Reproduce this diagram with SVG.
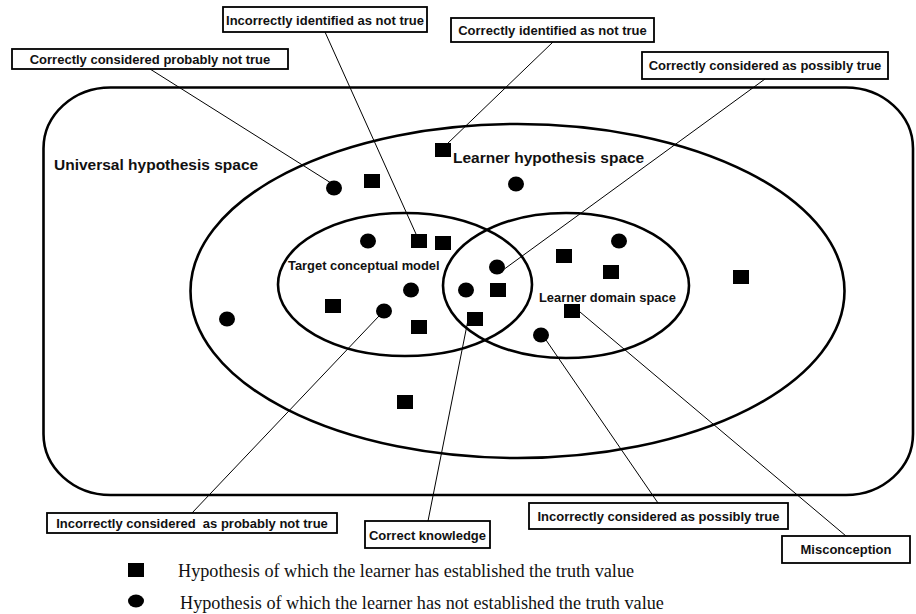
<svg xmlns="http://www.w3.org/2000/svg" width="916" height="614" viewBox="0 0 916 614">
  <style>
    .region { fill: none; stroke: #000; stroke-width: 2.6; }
    .box { fill: #fff; stroke: #000; stroke-width: 1.8; }
    .lbl { font-family: "Liberation Sans", Arial, sans-serif; font-weight: bold; font-size: 13px; text-anchor: middle; fill: #111; white-space: pre; }
    .title { font-family: "Liberation Sans", Arial, sans-serif; font-weight: bold; fill: #111; }
    .legend { font-family: "Liberation Serif", "Times New Roman", serif; font-size: 18.2px; fill: #111; }
    .link { stroke: #000; stroke-width: 1; fill: none; }
    .sq { fill: #000; }
    .dot { fill: #000; }
  </style>
  <rect width="916" height="614" fill="#fff"/>

  <!-- nested hypothesis spaces -->
  <g id="universal-space">
    <rect class="region" x="43.5" y="87.5" width="869.5" height="407.5" rx="67" ry="61"/>
    <text class="title" x="54" y="170" font-size="15.5">Universal hypothesis space</text>
  </g>
  <g id="learner-hypothesis-space">
    <ellipse class="region" cx="517.5" cy="291" rx="327" ry="167"/>
    <text class="title" x="453" y="163" font-size="15.5">Learner hypothesis space</text>
  </g>
  <g id="target-model">
    <ellipse class="region" cx="405" cy="284.5" rx="127" ry="71.5"/>
    <text class="title" x="288" y="270" font-size="12.9">Target conceptual model</text>
  </g>
  <g id="learner-domain">
    <ellipse class="region" cx="566" cy="285.5" rx="123" ry="72.5"/>
    <text class="title" x="539" y="302" font-size="12.9">Learner domain space</text>
  </g>

  <!-- hypotheses: squares = truth value established, dots = not established -->
  <g id="hypotheses">
    <rect class="sq" x="435" y="143" width="16" height="14"/>
    <rect class="sq" x="364" y="174" width="16" height="14"/>
    <rect class="sq" x="411" y="234" width="16" height="14"/>
    <rect class="sq" x="435" y="236" width="16" height="14"/>
    <rect class="sq" x="490" y="283" width="16" height="14"/>
    <rect class="sq" x="467" y="312" width="16" height="14"/>
    <rect class="sq" x="325" y="299" width="16" height="14"/>
    <rect class="sq" x="411" y="320" width="16" height="14"/>
    <rect class="sq" x="397" y="395" width="16" height="14"/>
    <rect class="sq" x="556" y="249" width="16" height="14"/>
    <rect class="sq" x="603" y="265" width="16" height="14"/>
    <rect class="sq" x="564" y="304" width="16" height="14"/>
    <rect class="sq" x="733" y="270" width="16" height="14"/>

    <ellipse class="dot" cx="334" cy="188" rx="8" ry="7.5"/>
    <ellipse class="dot" cx="516" cy="184" rx="8" ry="7.5"/>
    <ellipse class="dot" cx="368" cy="241" rx="8" ry="7.5"/>
    <ellipse class="dot" cx="497" cy="267" rx="8" ry="7.5"/>
    <ellipse class="dot" cx="411" cy="290" rx="8" ry="7.5"/>
    <ellipse class="dot" cx="466" cy="290" rx="8" ry="7.5"/>
    <ellipse class="dot" cx="384" cy="311" rx="8" ry="7.5"/>
    <ellipse class="dot" cx="227" cy="319" rx="8" ry="7.5"/>
    <ellipse class="dot" cx="619" cy="241" rx="8" ry="7.5"/>
    <ellipse class="dot" cx="541" cy="335" rx="8" ry="7.5"/>
  </g>

  <!-- callout leader lines -->
  <g id="connectors">
    <line class="link" x1="150" y1="69" x2="331" y2="183"/>
    <line class="link" x1="325" y1="32" x2="416" y2="234"/>
    <line class="link" x1="553" y1="42" x2="447" y2="144"/>
    <line class="link" x1="765" y1="79" x2="503" y2="270"/>
    <line class="link" x1="379" y1="316" x2="192" y2="513"/>
    <line class="link" x1="468" y1="320" x2="428" y2="521"/>
    <line class="link" x1="546" y1="340" x2="658" y2="503"/>
    <line class="link" x1="580" y1="312" x2="846" y2="536"/>
  </g>

  <!-- callout labels -->
  <g id="label-correctly-probably-not-true">
    <rect class="box" x="12" y="49" width="276" height="20"/>
    <text class="lbl" x="150" y="63.5">Correctly considered probably not true</text>
  </g>
  <g id="label-incorrectly-identified-not-true">
    <rect class="box" x="223" y="7" width="204" height="25"/>
    <text class="lbl" x="325" y="24.5">Incorrectly identified as not true</text>
  </g>
  <g id="label-correctly-identified-not-true">
    <rect class="box" x="451" y="18" width="203" height="24"/>
    <text class="lbl" x="552.5" y="35">Correctly identified as not true</text>
  </g>
  <g id="label-correctly-possibly-true">
    <rect class="box" x="642" y="52" width="246" height="27"/>
    <text class="lbl" x="765" y="70">Correctly considered as possibly true</text>
  </g>
  <g id="label-incorrectly-probably-not-true">
    <rect class="box" x="47" y="513" width="290" height="20"/>
    <text class="lbl" x="192" y="527.5">Incorrectly considered  as probably not true</text>
  </g>
  <g id="label-correct-knowledge">
    <rect class="box" x="365" y="521" width="125" height="27"/>
    <text class="lbl" x="427.5" y="539.5">Correct knowledge</text>
  </g>
  <g id="label-incorrectly-possibly-true">
    <rect class="box" x="529" y="503" width="259" height="26"/>
    <text class="lbl" x="658.5" y="521">Incorrectly considered as possibly true</text>
  </g>
  <g id="label-misconception">
    <rect class="box" x="782" y="536" width="128" height="27"/>
    <text class="lbl" x="846" y="554">Misconception</text>
  </g>

  <!-- legend -->
  <g id="legend">
    <rect class="sq" x="128" y="563" width="16" height="14"/>
    <text class="legend" x="178" y="577">Hypothesis of which the learner has established the truth value</text>
    <ellipse class="dot" cx="136" cy="601" rx="8" ry="6.5"/>
    <text class="legend" x="180" y="609">Hypothesis of which the learner has not established the truth value</text>
  </g>
</svg>
